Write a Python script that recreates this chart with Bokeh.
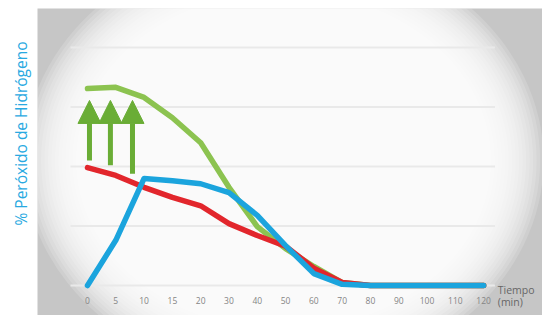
import numpy as np
from bokeh.plotting import figure
from bokeh.models import Range1d, Title, Arrow, NormalHead, ColumnDataSource
from bokeh.embed import file_html
from bokeh.resources import INLINE
from bokeh.core.properties import value

# ---- data ----
time_labels = ["0", "5", "10", "15", "20", "30", "40", "50", "60", "70", "80", "90", "100", "110", "120"]
green = [33.1, 33.3, 31.6, 28.2, 24.0, 16.5, 9.9, 6.2, 3.2, 0.5, 0, 0, 0, 0, 0]
red = [19.8, 18.5, 16.5, 14.8, 13.4, 10.4, 8.4, 6.6, 2.9, 0.5, 0, 0, 0, 0, 0]
blue = [0, 7.6, 18.0, 17.6, 17.1, 15.6, 11.8, 6.7, 2.0, 0.2, 0, 0, 0, 0, 0]
grid_levels = [0, 10, 20, 30, 40]
arrow_x = [0.07, 0.81, 1.59]
arrow_y_start = [21.0, 20.2, 18.8]
arrow_y_end = [31.1, 31.1, 31.1]
y_title = "% Peróxido de Hidrógeno"
x_title = ["Tiempo", "(min)"]

idx = list(range(len(time_labels)))

p = figure(width=542, height=315, output_backend="svg", toolbar_location=None,
           x_axis_type=None, y_axis_type=None,
           x_range=Range1d(-1.767, 16.08), y_range=Range1d(-5.04, 46.55),
           min_border_left=37, min_border_right=0, min_border_top=8, min_border_bottom=0)
p.outline_line_color = None
p.border_fill_color = "white"
p.background_fill_color = "#c6c6c6"

# vignette
n = 24
ws = np.linspace(520, 360, n)
hs = np.linspace(440, 285, n)
p.ellipse(x=[6.93] * n, y=[21.0] * n, width=ws, height=hs,
          width_units="screen", height_units="screen",
          fill_color="white", fill_alpha=0.16, line_color=None)

# gridlines
p.segment(x0=[-0.6] * len(grid_levels), x1=[14.4] * len(grid_levels),
          y0=grid_levels, y1=grid_levels, line_color="#e9e9e9", line_width=2)

lw = 5.5
p.line(idx, green, line_color="#8cc350", line_width=lw, line_join="round", line_cap="round")
p.line(idx, red, line_color="#e2262c", line_width=lw, line_join="round", line_cap="round")
p.line(idx, blue, line_color="#1ba4dd", line_width=lw, line_join="round", line_cap="round")

# arrows
asrc = ColumnDataSource(dict(x0=arrow_x, y0=arrow_y_start, x1=arrow_x, y1=arrow_y_end))
p.add_layout(Arrow(end=NormalHead(size=23, fill_color="#6aad36", line_color="#6aad36"),
                   x_start="x0", y_start="y0", x_end="x1", y_end="y1", source=asrc,
                   line_color="#6aad36", line_width=5))

# x tick labels
p.text(x=idx, y=[-2.52] * len(idx), text=time_labels, text_font=value("Open Sans"),
       text_font_size="8.5px", text_color="#858585", text_align="center", text_baseline="middle")
p.text(x=[14.5] * 2, y=[-0.8, -2.75], text=x_title, text_font=value("Open Sans"),
       text_font_size="10.5px", text_color="#666666", text_align="left", text_baseline="middle")

t = Title(text=y_title, text_color="#29a9e1", text_font_size="15.5px", text_font="Open Sans",
          text_font_style="normal", align="left", offset=90, standoff=12)
p.add_layout(t, "left")

open("out.html", "w").write(file_html(p, INLINE))
